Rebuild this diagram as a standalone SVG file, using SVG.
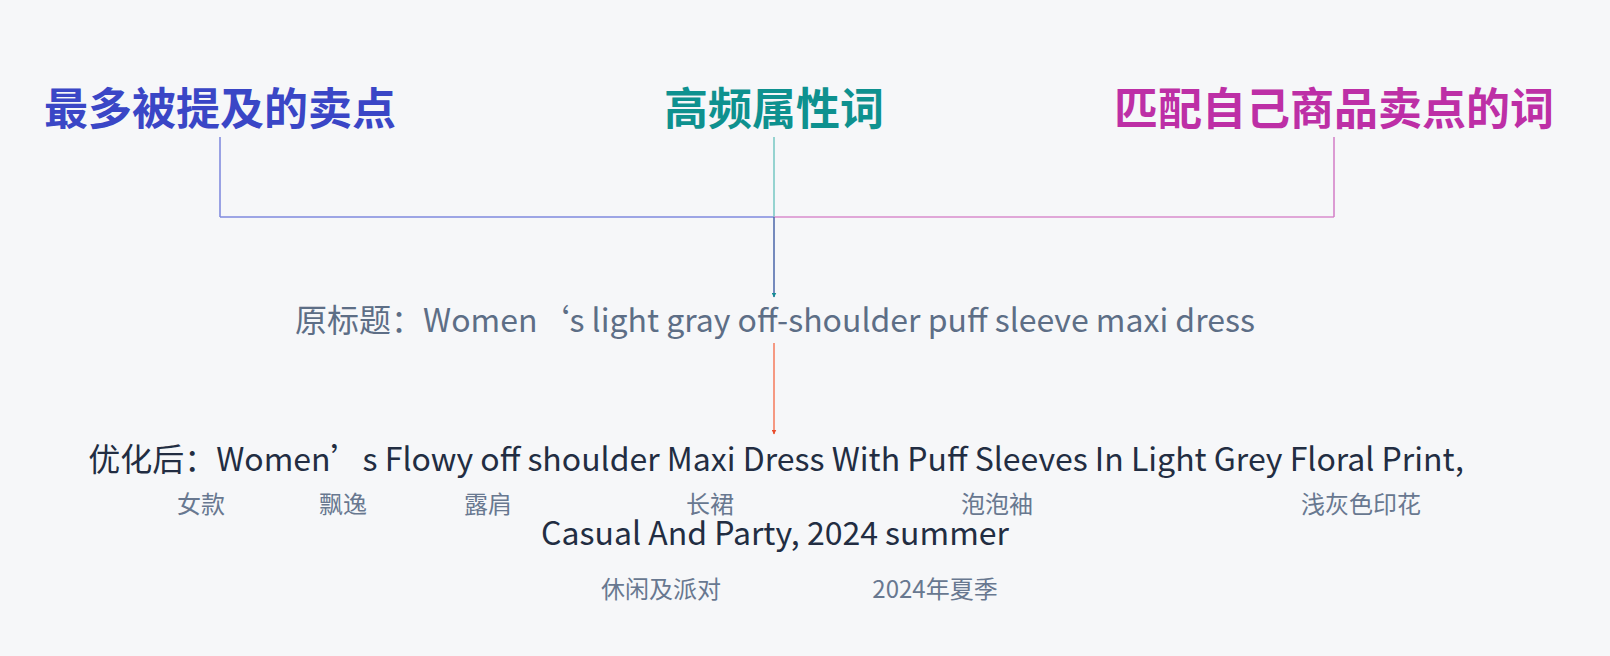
<svg xmlns="http://www.w3.org/2000/svg" width="1610" height="656" viewBox="0 0 1610 656">
  <style>
    text { font-family: "Noto Sans CJK SC", "Noto Sans", sans-serif; }
    .title { font-size: 44px; font-weight: 700; text-anchor: middle; }
    .orig { font-size: 32px; fill: #5d6e86; text-anchor: middle; }
    .opt { font-size: 32px; fill: #222d42; text-anchor: middle; }
    .lbl { font-size: 24px; fill: #687890; text-anchor: middle; }
    .ln { fill: none; stroke-width: 1.5; }
  </style>
  <defs>
    <marker id="arT" viewBox="0 0 10 10" refX="9" refY="5" markerWidth="5" markerHeight="5" orient="auto" markerUnits="userSpaceOnUse">
      <path d="M0,0 L10,5 L0,10 Z" fill="#148c96"/>
    </marker>
    <marker id="arO" viewBox="0 0 10 10" refX="9" refY="5" markerWidth="5" markerHeight="5" orient="auto" markerUnits="userSpaceOnUse">
      <path d="M0,0 L10,5 L0,10 Z" fill="#e84c2c"/>
    </marker>
  </defs>
  <rect width="1610" height="656" fill="#f6f7f9"/>

  <g id="node-most-mentioned">
    <text class="title" x="220" y="125" fill="#3a46c6">最多被提及的卖点</text>
  </g>
  <g id="node-high-frequency">
    <text class="title" x="774" y="125" fill="#0e918f">高频属性词</text>
  </g>
  <g id="node-match">
    <text class="title" x="1334" y="125" fill="#bd2fa6">匹配自己商品卖点的词</text>
  </g>

  <g id="connectors">
    <line class="ln" x1="220" y1="137" x2="220" y2="217" stroke="#7b86dc"/>
    <line class="ln" x1="220" y1="217" x2="774" y2="217" stroke="#7f8ade"/>
    <line class="ln" x1="774" y1="137" x2="774" y2="217" stroke="#74c7c2"/>
    <line class="ln" x1="774" y1="217" x2="1334" y2="217" stroke="#d98ccd"/>
    <line class="ln" x1="1334" y1="137" x2="1334" y2="217" stroke="#d27cc6"/>
    <line class="ln" x1="774" y1="217" x2="774" y2="297" stroke="#4a66a8" marker-end="url(#arT)"/>
    <line class="ln" x1="774" y1="343" x2="774" y2="434" stroke="#f47a5a" marker-end="url(#arO)"/>
  </g>

  <g id="node-original">
    <text class="orig" x="775" y="332">原标题：Women‘s light gray off-shoulder puff sleeve maxi dress</text>
  </g>

  <g id="node-optimized">
    <text class="opt" x="776" y="471">优化后：Women’s Flowy off shoulder Maxi Dress With Puff Sleeves In Light Grey Floral Print,</text>
    <text class="opt" x="775" y="545">Casual And Party, 2024 summer</text>
  </g>

  <g id="labels">
    <text class="lbl" x="201" y="513">女款</text>
    <text class="lbl" x="343" y="513">飘逸</text>
    <text class="lbl" x="488" y="513">露肩</text>
    <text class="lbl" x="710" y="513">长裙</text>
    <text class="lbl" x="997" y="513">泡泡袖</text>
    <text class="lbl" x="1361" y="513">浅灰色印花</text>
    <text class="lbl" x="661" y="598">休闲及派对</text>
    <text class="lbl" x="935" y="598">2024年夏季</text>
  </g>
</svg>
